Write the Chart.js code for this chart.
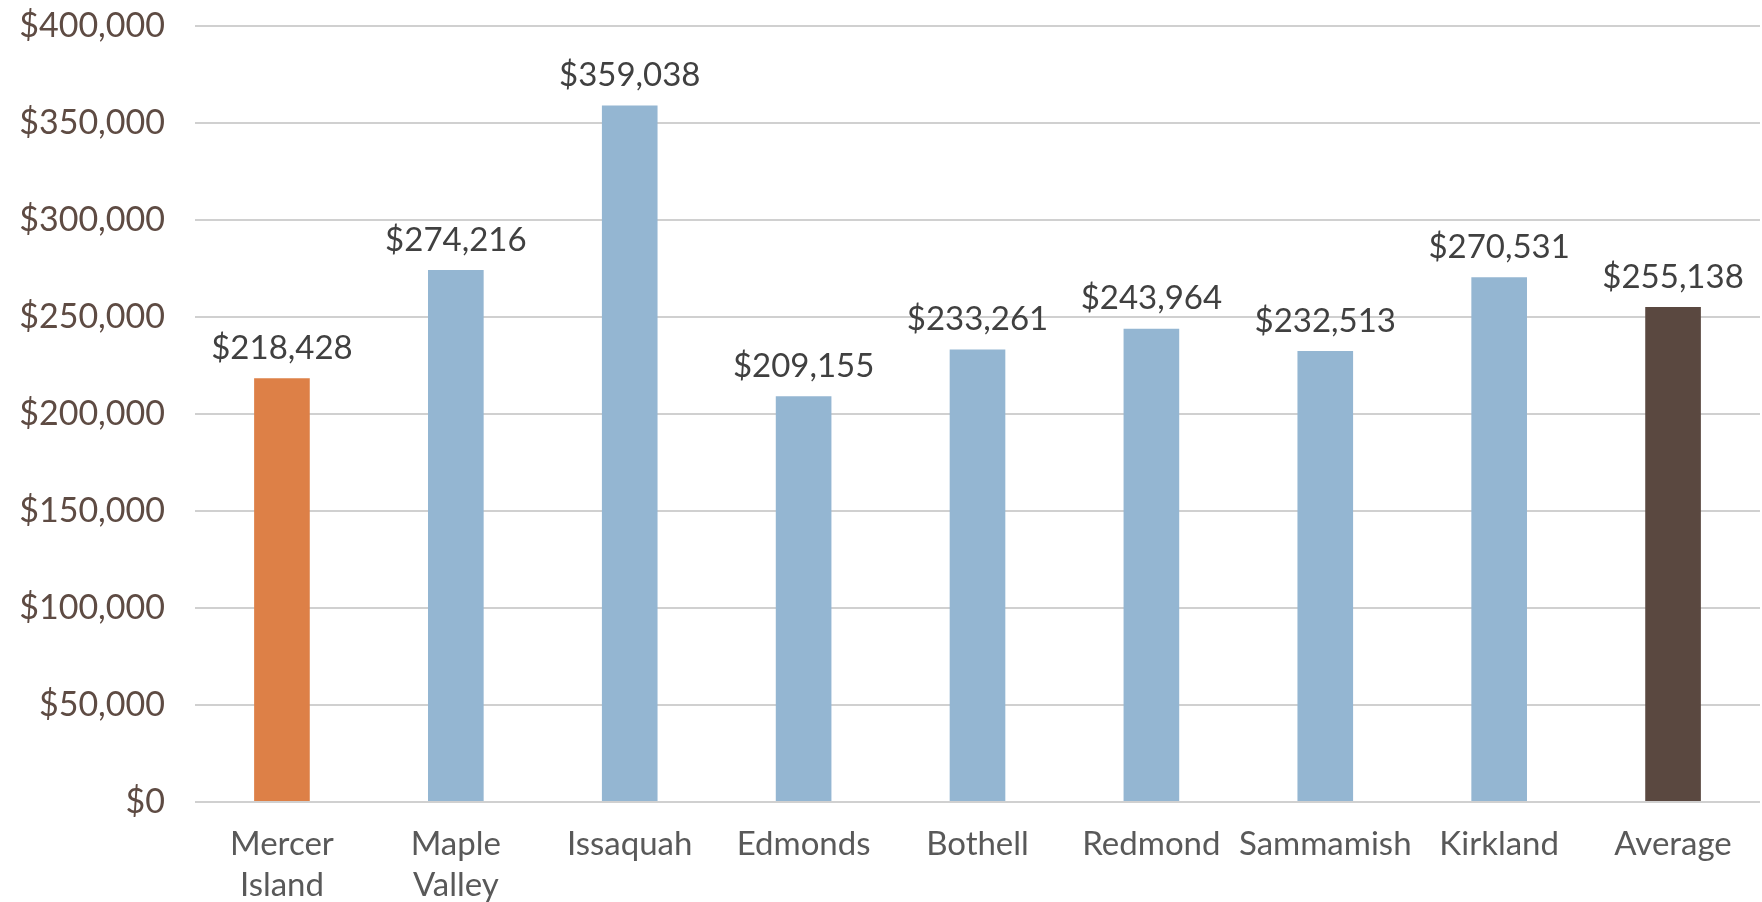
<!DOCTYPE html>
<html lang="en">
<head>
<meta charset="UTF-8">
<title>Median Household Income</title>
<script src="https://cdn.jsdelivr.net/npm/chart.js"></script>
<style>
    html, body { margin: 0; padding: 0; background: #ffffff; }
    #wrap { width: 1762px; height: 902px; }
</style>
</head>
<body>
<div id="wrap"><canvas id="incomeChart" width="1762" height="902"></canvas></div>
<script>
    const cities = [["Mercer", "Island"], ["Maple", "Valley"], "Issaquah", "Edmonds", "Bothell", "Redmond", "Sammamish", "Kirkland", "Average"];
    const incomes = [218428, 274216, 359038, 209155, 233261, 243964, 232513, 270531, 255138];
    const barColors = ["#dd8047", "#94b6d2", "#94b6d2", "#94b6d2", "#94b6d2", "#94b6d2", "#94b6d2", "#94b6d2", "#5a4840"];
    const yTicks = [0, 50000, 100000, 150000, 200000, 250000, 300000, 350000, 400000];

    const money = v => "$" + v.toLocaleString("en-US");
    const FONT = "Lato, 'Open Sans', sans-serif";

    // value labels above each bar
    const barLabels = {
        id: "barLabels",
        afterDatasetsDraw(chart) {
            const ctx = chart.ctx;
            const meta = chart.getDatasetMeta(0);
            ctx.save();
            ctx.font = "33px " + FONT;
            ctx.fillStyle = "#404040";
            ctx.textAlign = "center";
            ctx.textBaseline = "middle";
            meta.data.forEach((bar, i) => {
                ctx.fillText(money(incomes[i]), bar.x, bar.y - 30);
            });
            ctx.restore();
        }
    };

    new Chart(document.getElementById("incomeChart"), {
        type: "bar",
        data: {
            labels: cities,
            datasets: [{
                data: incomes,
                backgroundColor: barColors,
                borderWidth: 0,
                barPercentage: 0.32,
                categoryPercentage: 1
            }]
        },
        options: {
            responsive: false,
            animation: false,
            layout: { padding: { top: 26, right: 2, bottom: 0, left: 0 } },
            plugins: {
                legend: { display: false },
                tooltip: { enabled: false }
            },
            scales: {
                x: {
                    grid: { display: false, drawTicks: false },
                    border: { display: false },
                    ticks: {
                        color: "#595959",
                        font: { family: FONT, size: 33, lineHeight: 1.24 },
                        padding: 22,
                        maxRotation: 0,
                        autoSkip: false
                    },
                    afterFit(scale) { scale.height = 100; }
                },
                y: {
                    min: 0,
                    max: 400000,
                    afterBuildTicks(scale) { scale.ticks = yTicks.map(v => ({ value: v })); },
                    grid: { color: "#d0d0d0", lineWidth: 2, drawTicks: false },
                    border: { display: false },
                    ticks: {
                        color: "#5e4b43",
                        font: { family: FONT, size: 34 },
                        padding: 30,
                        callback: v => money(v)
                    },
                    afterFit(scale) {
                        scale.width = 195;
                        scale.paddingTop = 0;
                    }
                }
            }
        },
        plugins: [barLabels]
    });
</script>
</body>
</html>
